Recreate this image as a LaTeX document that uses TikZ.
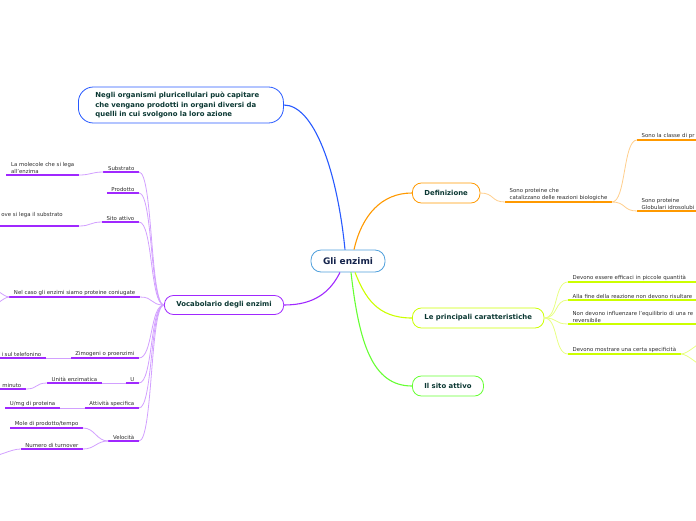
\documentclass[tikz,border=0pt]{standalone}
\usepackage{fontspec}
\setmainfont{DejaVu Sans}
\usepackage{tikz}
\usetikzlibrary{positioning}
\usepackage{xcolor}

\definecolor{rootblue}{RGB}{80,160,220}
\definecolor{linkblue}{RGB}{40,90,255}
\definecolor{deforange}{RGB}{255,153,0}
\definecolor{deflight}{RGB}{255,206,140}
\definecolor{caryellow}{RGB}{204,255,0}
\definecolor{carlight}{RGB}{232,255,130}
\definecolor{sitogreen}{RGB}{102,255,51}
\definecolor{vocpurple}{RGB}{160,40,255}
\definecolor{voclight}{RGB}{210,160,255}
\definecolor{topictext}{RGB}{10,55,50}
\definecolor{roottext}{RGB}{20,35,75}
\definecolor{leaftext}{RGB}{45,45,45}

\newcommand\leafsize{\fontsize{5.4}{7}\selectfont}
\newcommand\topicsize{\fontsize{6.9}{9.2}\selectfont\bfseries}
\newcommand\rootsize{\fontsize{9}{11}\selectfont\bfseries}

\begin{document}
\begin{tikzpicture}[x=1pt,y=-1pt,
  topic/.style={draw=#1, thick, fill=white, rounded corners=9pt, font=\topicsize,
    text=topictext, inner xsep=12pt, minimum height=20pt, anchor=west},
  leaf/.style={font=\leafsize, text=leaftext, align=left, inner xsep=4.5pt, inner ysep=1.6pt,
    append after command={(\tikzlastnode.south west) edge[draw=#1, line width=1.4pt] (\tikzlastnode.south east)}},
  link/.style={draw=#1, line width=1.1pt},
  twig/.style={draw=#1, line width=0.8pt}]
  \useasboundingbox (0,0) rectangle (696,520);

  %% Centre
  \node[draw=rootblue, thick, fill=white, rounded corners=10pt, font=\rootsize,
    text=roottext, inner xsep=12pt, minimum height=22pt] (root) at (348,261) {Gli enzimi};

  %% Main topics
  \node[topic=linkblue, rounded corners=15pt, align=left, inner xsep=17pt, text width=171pt,
    minimum height=36pt] (organi) at (78,105)
    {Negli organismi pluricellulari può capitare\\che vengano prodotti in organi diversi da\\quelli in cui svolgono la loro azione};
  \node[topic=deforange] (defin) at (412,193) {Definizione};
  \node[topic=caryellow] (caratt) at (412,318) {Le principali caratteristiche};
  \node[topic=sitogreen] (sito) at (412,386) {Il sito attivo};
  \node[topic=vocpurple, minimum height=19pt] (vocab) at (164,305) {Vocabolario degli enzimi};

  \draw[link=linkblue] ([xshift=-3pt]root.north) .. controls +(-8,-80) and +(30,0) .. (organi.east);
  \draw[link=deforange] ([xshift=6pt]root.north) .. controls +(8,-35) and +(-30,0) .. (defin.west);
  \draw[link=vocpurple] ([xshift=-8pt]root.south) .. controls +(-10,20) and +(30,0) .. (vocab.east);
  \draw[link=caryellow] ([xshift=7pt]root.south) .. controls +(10,25) and +(-35,0) .. (caratt.west);
  \draw[link=sitogreen] ([xshift=3pt]root.south) .. controls +(8,70) and +(-40,0) .. (sito.west);

  %% Definizione
  \node[leaf=deforange, anchor=south west] (catal) at (505,202)
    {Sono proteine che\\catalizzano delle reazioni biologiche};
  \node[leaf=deforange, anchor=south west, text width=70pt] (classe) at (637,140) {Sono la classe di pr};
  \node[leaf=deforange, anchor=south west, text width=70pt] (globul) at (637,211)
    {Sono proteine\\Globulari idrosolubi};
  \draw[twig=deflight] (defin.east) .. controls +(14,0) and +(-14,0) .. (catal.south west);
  \foreach \ch in {classe,globul}
    \draw[twig=deflight] (catal.south east) .. controls +(14,0) and +(-14,0) .. (\ch.south west);

  %% Caratteristiche
  \node[leaf=caryellow, anchor=south west, text width=135pt] (effic) at (568,282)
    {Devono essere efficaci in piccole quantità};
  \node[leaf=caryellow, anchor=south west, text width=135pt] (risult) at (568,300)
    {Alla fine della reazione non devono risultare};
  \node[leaf=caryellow, anchor=south west, text width=135pt] (equil) at (568,324)
    {Non devono influenzare l'equilibrio di una re\\reversibile};
  \node[leaf=caryellow, anchor=south west] (specif) at (568,354)
    {Devono mostrare una certa specificità};
  \foreach \ch in {effic,risult,equil,specif}
    \draw[twig=carlight] (caratt.east) .. controls +(14,0) and +(-14,0) .. (\ch.south west);
  \coordinate (specout1) at (708,340);
  \coordinate (specout2) at (708,368);
  \foreach \ch in {specout1,specout2}
    \draw[twig=carlight] (specif.south east) .. controls +(8,0) and +(-8,0) .. (\ch);

  %% Vocabolario
  \node[leaf=vocpurple, anchor=south east] (substr) at (139,172) {Substrato};
  \node[leaf=vocpurple, anchor=south east] (molec) at (79,175) {La molecole che si lega\\all'enzima};
  \node[leaf=vocpurple, anchor=south east] (prodot) at (139,193) {Prodotto};
  \node[leaf=vocpurple, anchor=south east] (sitoatt) at (139,222) {Sito attivo};
  \node[leaf=vocpurple, anchor=south east, text width=73pt, text depth=8pt] (dove) at (79,226)
    {ove si lega il substrato};
  \node[leaf=vocpurple, anchor=south east] (coniug) at (140,297)
    {Nel caso gli enzimi siamo proteine coniugate};
  \node[leaf=vocpurple, anchor=south east] (zimog) at (139,358) {Zimogeni o proenzimi};
  \node[leaf=vocpurple, anchor=south east] (telef) at (46,358) {i sul telefonino};
  \node[leaf=vocpurple, anchor=south east] (ulabel) at (139,383) {U};
  \node[leaf=vocpurple, anchor=south east] (unita) at (102,383) {Unità enzimatica};
  \node[leaf=vocpurple, anchor=south east] (minuto) at (26,389) {minuto};
  \node[leaf=vocpurple, anchor=south east] (attiv) at (139,408) {Attività specifica};
  \node[leaf=vocpurple, anchor=south east] (umg) at (60,408) {U/mg di proteina};
  \node[leaf=vocpurple, anchor=south east] (veloc) at (139,441) {Velocità};
  \node[leaf=vocpurple, anchor=south east] (mole) at (83,428) {Mole di prodotto/tempo};
  \node[leaf=vocpurple, anchor=south east] (turn) at (83,449) {Numero di turnover};

  \foreach \ch in {substr,prodot,sitoatt,coniug,zimog,ulabel,attiv,veloc}
    \draw[twig=voclight] (vocab.west) .. controls +(-14,0) and +(14,0) .. (\ch.south east);
  \foreach \pa/\ch in {substr/molec,sitoatt/dove,zimog/telef,ulabel/unita,unita/minuto,attiv/umg,veloc/mole,veloc/turn}
    \draw[twig=voclight] (\pa.south west) .. controls +(-12,0) and +(12,0) .. (\ch.south east);
  \coordinate (coniugout1) at (-12,286);
  \coordinate (coniugout2) at (-12,308);
  \coordinate (turnout) at (-12,457);
  \foreach \ch in {coniugout1,coniugout2}
    \draw[twig=voclight] (coniug.south west) .. controls +(-6,0) and +(6,0) .. (\ch);
  \draw[twig=voclight] (turn.south west) .. controls +(-10,0) and +(10,0) .. (turnout);
\end{tikzpicture}
\end{document}
